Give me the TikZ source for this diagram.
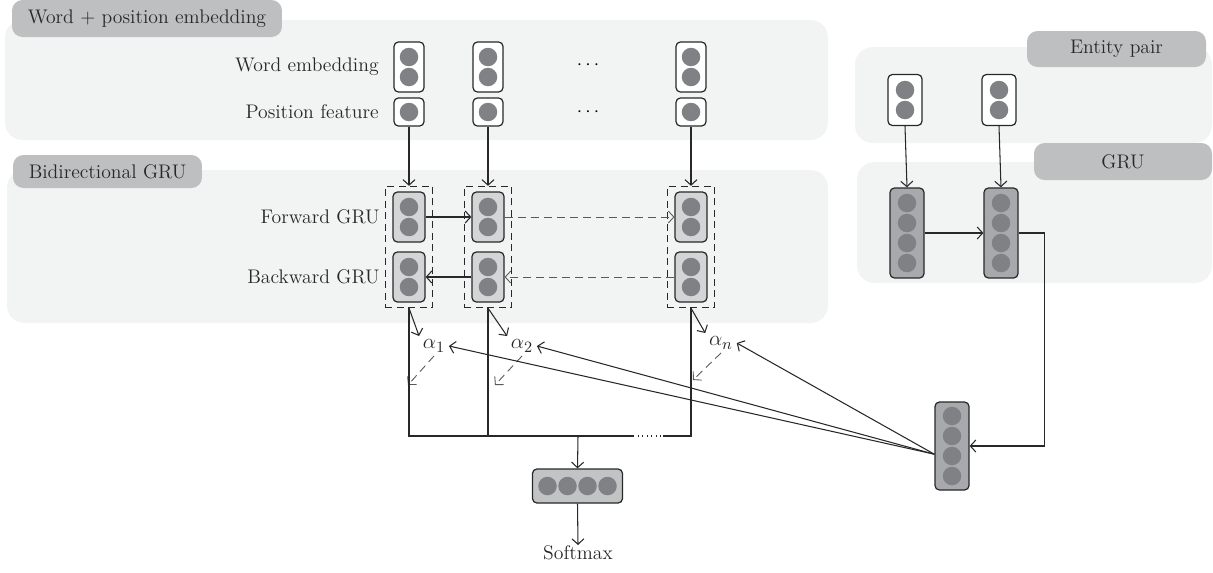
\documentclass[tikz,border=0pt]{standalone}
\usetikzlibrary{arrows.meta,positioning,fit,calc}
\definecolor{panelgray}{RGB}{242,243,243}
\definecolor{tabgray}{RGB}{190,191,193}
\definecolor{boxlight}{RGB}{212,213,215}
\definecolor{boxmid}{RGB}{194,195,197}
\definecolor{boxdark}{RGB}{168,169,172}
\definecolor{dotgray}{RGB}{128,129,133}
\definecolor{inkgray}{RGB}{40,40,40}

\begin{document}
\begin{tikzpicture}[x=0.02cm, y=-0.02cm,
  font=\fontsize{11.2}{13}\selectfont,
  panel/.style={fill=panelgray, rounded corners=10pt},
  tab/.style={fill=tabgray, rounded corners=6pt, inner sep=0pt, text=inkgray},
  vec/.style={draw=inkgray, line width=0.7pt, rounded corners=2.5pt, inner sep=0pt, minimum width=0.64cm},
  dot/.style={circle, fill=dotgray, inner sep=0pt, minimum size=0.37cm},
  lbl/.style={anchor=east, text=inkgray, inner sep=0pt},
  wgt/.style={text=inkgray, inner sep=2pt, font=\fontsize{13}{15}\selectfont},
  grp/.style={draw=inkgray, line width=0.6pt, dash pattern=on 1.4mm off 0.9mm, inner xsep=0.14cm, inner ysep=0.1cm},
  line/.style={line width=0.6pt, draw=inkgray},
  arr/.style={-{Straight Barb[length=1.1mm,width=2.4mm]}, line width=0.6pt, draw=inkgray},
  darr/.style={arr, line width=0.5pt, draw=black!65, dash pattern=on 1.6mm off 1mm}
]
  \useasboundingbox (0,0) rectangle (1213,572);

  % Panels
  \fill[panel] (5,20) rectangle (828,140);
  \fill[panel] (7,170) rectangle (828,323);
  \fill[panel] (855,47) rectangle (1212,143);
  \fill[panel] (857,162) rectangle (1212,283);

  % Panel tabs
  \node[tab, minimum width=5.4cm, minimum height=0.74cm]  (tabemb) at (147,18.5)  {Word + position embedding};
  \node[tab, minimum width=3.78cm, minimum height=0.66cm] (tabbi)  at (107.5,171.5) {Bidirectional GRU};
  \node[tab, minimum width=3.58cm, minimum height=0.72cm] (tabent) at (1116.5,49)  {Entity pair};
  \node[tab, minimum width=3.56cm, minimum height=0.74cm] (tabgru) at (1123,161.5) {GRU};

  % Row labels
  \node[lbl] (lwe) at (379,67)  {Word embedding};
  \node[lbl] (lpf) at (379,112) {Position feature};
  \node[lbl] (lfw) at (380,217) {Forward GRU};
  \node[lbl] (lbw) at (380,277) {Backward GRU};
  \node (dwe) at (588,65)  {$\cdots$};
  \node (dpf) at (588,112) {$\cdots$};

  % Word columns
  \foreach \n/\x in {1/409, 2/488, n/691} {
    \node[vec, fill=white, minimum width=0.6cm, minimum height=1cm]    (we\n) at (\x,67)  {};
    \node[vec, fill=white, minimum width=0.6cm, minimum height=0.56cm] (pf\n) at (\x,112) {};
    \node[vec, fill=boxlight, minimum height=1cm] (fw\n) at (\x,217) {};
    \node[vec, fill=boxlight, minimum height=1cm] (bw\n) at (\x,277) {};
    \node[grp, fit=(fw\n)(bw\n)] (bi\n) {};
    \foreach \b in {we,fw,bw}
      \foreach \dy in {-10,10}
        \node[dot] at ($(\b\n)+(0,\dy)$) {};
    \node[dot] at (pf\n) {};
    \draw[arr] (pf\n.south) -- (bi\n.north);
  }

  % Recurrent links
  \draw[arr]  (fw1.east) -- (fw2.west);
  \draw[darr] (fw2.east) -- (fwn.west);
  \draw[arr]  (bw2.west) -- (bw1.east);
  \draw[darr] (bwn.west) -- (bw2.east);

  % Attention weights
  \node[wgt] (a1) at (434,346) {$\alpha_1$};
  \node[wgt] (a2) at (522,346) {$\alpha_2$};
  \node[wgt] (an) at (721,343) {$\alpha_n$};
  \coordinate (d1) at (408,385);
  \coordinate (d2) at (495,385);
  \coordinate (dn) at (693,380);
  \foreach \n in {1,2,n} {
    \draw[arr]  (bi\n.south) -- (a\n.north west);
    \draw[darr] (a\n.south) -- (d\n);
  }

  % Weighted sum
  \coordinate (b1) at (633,436);
  \coordinate (b2) at (663,436);
  \coordinate (jn) at (578,436);
  \draw[line] (bi1.south) |- (b1);
  \draw[line, dotted] (b1) -- (b2);
  \draw[line] (b2) -| (bin.south);
  \draw[line] (bi2.south) -- (bi2.south |- b1);

  % Output
  \node[vec, fill=boxmid, minimum width=1.8cm, minimum height=0.68cm] (soft) at (577.5,486) {};
  \foreach \dx in {-30,-10,10,30}
    \node[dot] at ($(soft)+(\dx,0)$) {};
  \draw[arr] (jn) -- (soft.north);
  \node[text=inkgray, anchor=north, inner sep=0pt] (sm) at (578,545) {Softmax};
  \draw[arr] (soft.south) -- (sm.north);

  % Entity pair and GRU
  \foreach \n/\x in {1/905, 2/999} {
    \node[vec, fill=white, minimum width=0.68cm, minimum height=1.02cm] (ep\n) at (\x,100) {};
    \node[vec, fill=boxdark, minimum width=0.68cm, minimum height=1.8cm] (gru\n) at (\x+2,233) {};
    \foreach \dy in {-10,10}
      \node[dot] at ($(ep\n)+(0,\dy)$) {};
    \foreach \dy in {-30,-10,10,30}
      \node[dot] at ($(gru\n)+(0,\dy)$) {};
    \draw[arr] (ep\n.south) -- (gru\n.north);
  }
  \draw[arr] (gru1.east) -- (gru2.west);

  % Relation query vector
  \node[vec, fill=boxdark, minimum width=0.68cm, minimum height=1.76cm] (att) at (952,446) {};
  \foreach \dy in {-30,-10,10,30}
    \node[dot] at ($(att)+(0,\dy)$) {};
  \draw[arr] (gru2.east) -- ++(26,0) |- (att.east);
  \foreach \n in {1,2,n}
    \draw[arr] (att.205) -- (a\n.east);
\end{tikzpicture}
\end{document}
